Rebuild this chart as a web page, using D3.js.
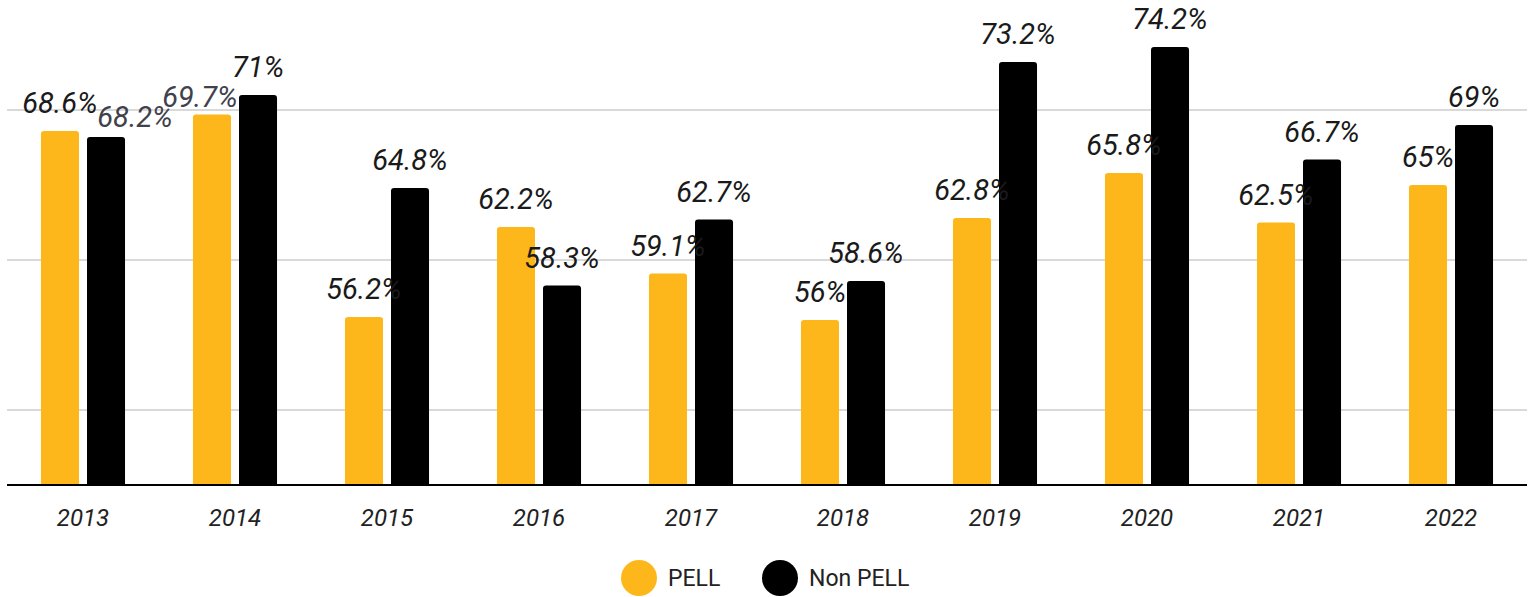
<!DOCTYPE html>
<html>
<head>
<meta charset="utf-8">
<script src="https://cdn.jsdelivr.net/npm/d3@7"></script>
<style>
  html, body { margin: 0; padding: 0; background: #fff; }
  svg { display: block; font-family: Roboto, "Noto Sans", sans-serif; }
</style>
</head>
<body>
<svg id="chart"></svg>
<script>
var years = ["2013", "2014", "2015", "2016", "2017", "2018", "2019", "2020", "2021", "2022"];
var pell = [68.6, 69.7, 56.2, 62.2, 59.1, 56, 62.8, 65.8, 62.5, 65];
var nonPell = [68.2, 71, 64.8, 58.3, 62.7, 58.6, 73.2, 74.2, 66.7, 69];
var seriesNames = ["PELL", "Non PELL"];
var seriesColors = ["#fdb71a", "#000000"];
var gridTicks = [50, 60, 70];

// labels that got pushed aside by the chart's overlap handling
var labelNudge = { "Non PELL-2013": [29, 8], "PELL-2014": [-12, 10] };

var width = 1535, height = 597;
var left = 7, right = 1527, baseline = 485;

var svg = d3.select("#chart")
  .attr("width", width)
  .attr("height", height);

var x0 = d3.scaleBand()
  .domain(years)
  .range([left, right])
  .paddingInner(0.447)
  .paddingOuter(0.2235);

var x1 = d3.scaleBand()
  .domain(seriesNames)
  .range([0, x0.bandwidth()])
  .paddingInner(8 / 46);

var y = d3.scaleLinear()
  .domain([45, 70])
  .range([baseline, 110]);

// gridlines
svg.append("g")
  .selectAll("line")
  .data(gridTicks)
  .join("line")
  .attr("x1", left)
  .attr("x2", right)
  .attr("y1", function(d) { return y(d); })
  .attr("y2", function(d) { return y(d); })
  .style("stroke", "#d9d9d9")
  .style("stroke-width", 2);

var rows = [];
years.forEach(function(yr, i) {
  rows.push({ year: yr, series: "PELL", value: pell[i], color: seriesColors[0] });
  rows.push({ year: yr, series: "Non PELL", value: nonPell[i], color: seriesColors[1] });
});

function topRounded(x, yTop, w, h, r) {
  return "M" + x + "," + (yTop + h) +
    "V" + (yTop + r) +
    "Q" + x + "," + yTop + " " + (x + r) + "," + yTop +
    "H" + (x + w - r) +
    "Q" + (x + w) + "," + yTop + " " + (x + w) + "," + (yTop + r) +
    "V" + (yTop + h) + "Z";
}

svg.append("g")
  .selectAll("path")
  .data(rows)
  .join("path")
  .attr("d", function(d) {
    var bx = x0(d.year) + x1(d.series);
    var top = y(d.value);
    return topRounded(bx, top, x1.bandwidth(), baseline - top, 3);
  })
  .style("fill", function(d) { return d.color; });

// value labels
svg.append("g")
  .selectAll("text")
  .data(rows)
  .join("text")
  .attr("x", function(d) {
    var n = labelNudge[d.series + "-" + d.year];
    return x0(d.year) + x1(d.series) + x1.bandwidth() / 2 + (n ? n[0] : 0);
  })
  .attr("y", function(d) {
    var n = labelNudge[d.series + "-" + d.year];
    return y(d.value) - 18 + (n ? n[1] : 0);
  })
  .attr("text-anchor", "middle")
  .style("font-size", "29px")
  .style("font-style", "italic")
  .style("fill", function(d) { return labelNudge[d.series + "-" + d.year] ? "#41414b" : "#1a1a1a"; })
  .text(function(d) { return d.value + "%"; });

// x axis
var xAxis = svg.append("g")
  .attr("transform", "translate(0," + baseline + ")")
  .call(d3.axisBottom(x0).tickSize(0).tickPadding(24));

xAxis.select(".domain")
  .attr("d", "M" + left + ",0H" + right)
  .style("stroke", "#000")
  .style("stroke-width", 2);

xAxis.selectAll("text")
  .style("font-family", "Roboto, sans-serif")
  .style("font-size", "24px")
  .style("font-style", "italic")
  .style("fill", "#222");

// legend
var legend = svg.append("g")
  .attr("transform", "translate(0,578)");

var legendX = [639, 780];
seriesNames.forEach(function(name, i) {
  legend.append("circle")
    .attr("cx", legendX[i])
    .attr("cy", 0)
    .attr("r", 18)
    .style("fill", seriesColors[i]);
  legend.append("text")
    .attr("x", legendX[i] + 29)
    .attr("y", 0)
    .attr("dy", "0.35em")
    .style("font-size", "23px")
    .style("fill", "#222")
    .text(name);
});
</script>
</body>
</html>
